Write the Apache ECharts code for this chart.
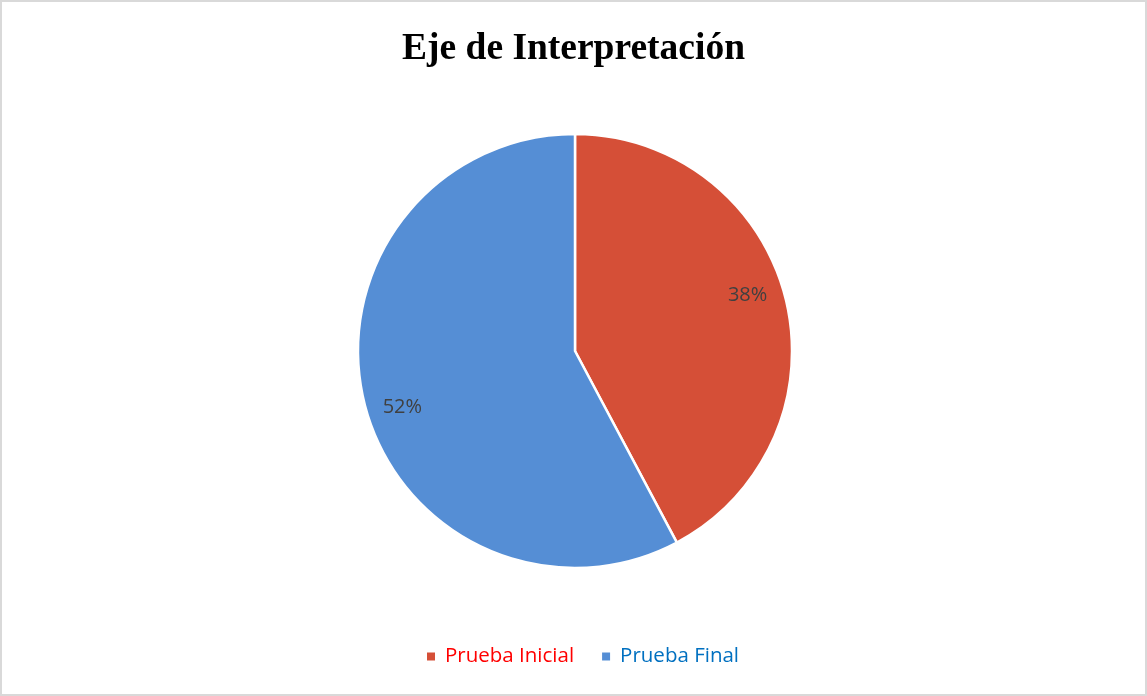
<!DOCTYPE html>
<html>
<head>
<meta charset="utf-8">
<script src="https://cdn.jsdelivr.net/npm/echarts@6/dist/echarts.min.js"></script>
<style>
  html, body { margin: 0; padding: 0; background: #fff; }
  #chart { width: 1147px; height: 696px; box-sizing: border-box; border: 2px solid #d9d9d9; }
</style>
</head>
<body>
<div id="chart"></div>
<script>
// datos del gráfico
var categories = ['Prueba Inicial', 'Prueba Final'];
var values = [38, 52];
var labels = ['38%', '52%'];
var sliceColors = ['#d54f37', '#558ed5'];
var legendColors = ['#ff0000', '#0070c0'];

var chart = echarts.init(document.getElementById('chart'));

var pieData = categories.map(function (name, i) {
  return { name: name, value: values[i], itemStyle: { color: sliceColors[i] } };
});
var labelData = categories.map(function (name, i) {
  return { name: name, value: values[i], label: { formatter: labels[i] } };
});

var option = {
  animation: false,
  title: {
    text: 'Eje de Interpretación',
    left: 'center',
    top: 23,
    textStyle: {
      fontFamily: '"Liberation Serif", "Times New Roman", serif',
      fontWeight: 'bold',
      fontSize: 37.5,
      color: '#000'
    }
  },
  legend: {
    bottom: 22,
    left: 418,
    icon: 'rect',
    itemWidth: 10,
    itemHeight: 10,
    itemGap: 26,
    data: categories.map(function (name, i) {
      return { name: name, textStyle: { color: legendColors[i] } };
    }),
    textStyle: {
      fontFamily: '"Open Sans", "Liberation Sans", sans-serif',
      fontSize: 20.5,
      padding: [0, 0, 0, 4]
    }
  },
  series: [
    {
      type: 'pie',
      center: [573, 349],
      radius: 217,
      startAngle: 90,
      clockwise: true,
      label: { show: false },
      labelLine: { show: false },
      itemStyle: { borderColor: '#fff', borderWidth: 2.5 },
      emphasis: { disabled: true },
      data: pieData
    },
    {
      // serie transparente solo para etiquetas (ajuste tipo "mejor ajuste")
      type: 'pie',
      center: [573, 349],
      radius: [140, 217],
      startAngle: 94,
      clockwise: true,
      silent: true,
      itemStyle: { color: 'rgba(0,0,0,0)' },
      label: {
        show: true,
        position: 'inside',
        color: '#404040',
        fontSize: 20,
        fontFamily: '"Open Sans", "Liberation Sans", sans-serif'
      },
      labelLine: { show: false },
      emphasis: { disabled: true },
      data: labelData
    }
  ]
};
chart.setOption(option);
</script>
</body>
</html>
